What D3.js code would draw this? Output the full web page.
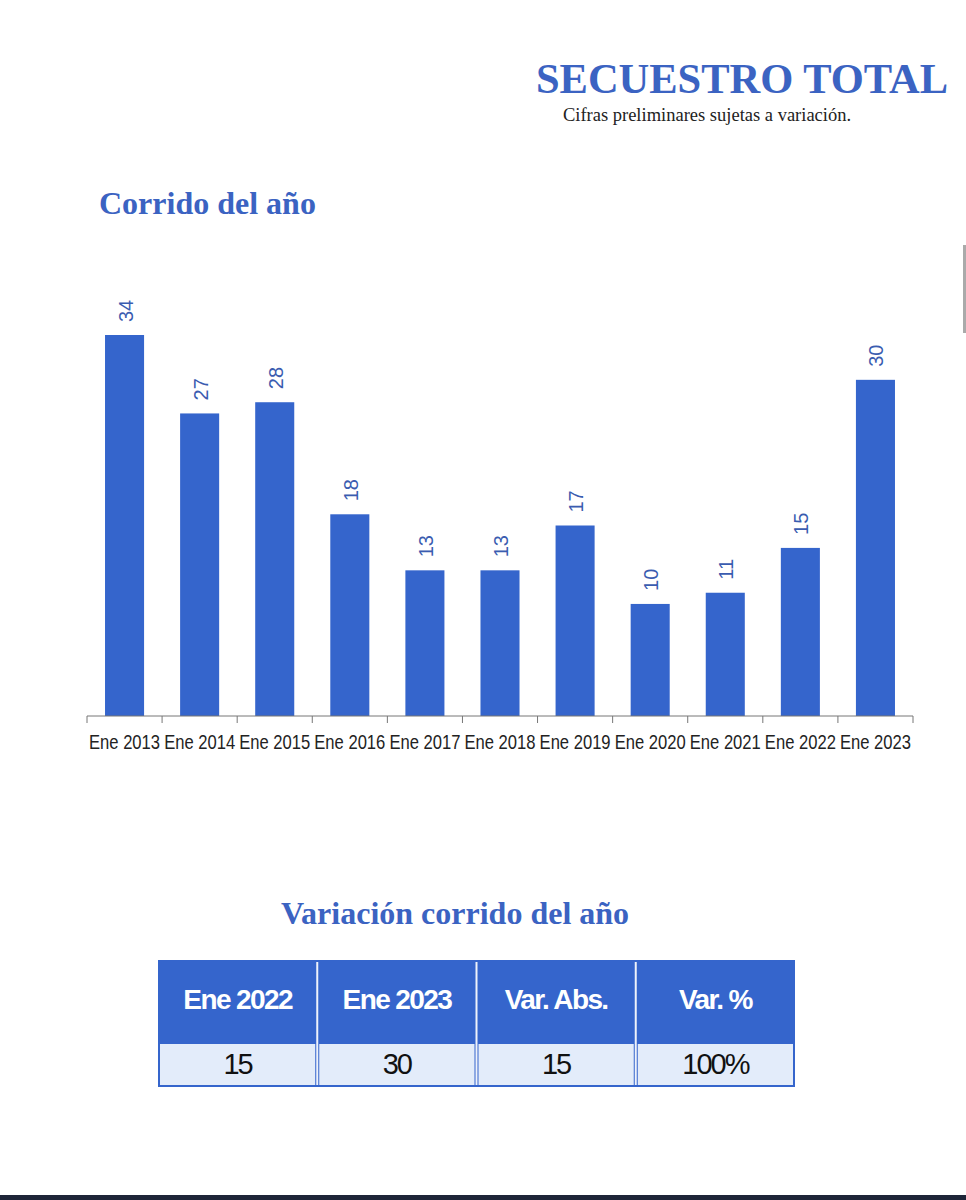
<!DOCTYPE html>
<html>
<head>
<meta charset="utf-8">
<script src="https://cdn.jsdelivr.net/npm/d3@7"></script>
<style>
  body { margin: 0; background: #fff; }
  svg { display: block; }
</style>
</head>
<body>
<svg id="chart" width="966" height="1200"></svg>
<script>
// Chart data
const categories = ['Ene 2013', 'Ene 2014', 'Ene 2015', 'Ene 2016', 'Ene 2017', 'Ene 2018',
                    'Ene 2019', 'Ene 2020', 'Ene 2021', 'Ene 2022', 'Ene 2023'];
const values = [34, 27, 28, 18, 13, 13, 17, 10, 11, 15, 30];

// Table data
const tableHeaders = ['Ene 2022', 'Ene 2023', 'Var. Abs.', 'Var. %'];
const tableValues = ['15', '30', '15', '100%'];

const blue = '#3565cc';
const titleBlue = '#3b63c2';
const serif = '"Liberation Serif", "DejaVu Serif", serif';
const sans = '"Liberation Sans", Arial, sans-serif';

const svg = d3.select('#chart');

// Titles
svg.append('text')
    .attr('x', 742).attr('y', 93)
    .attr('text-anchor', 'middle')
    .attr('font-family', serif).attr('font-weight', 'bold')
    .attr('font-size', '42.5px').attr('fill', titleBlue)
    .text('SECUESTRO TOTAL');

svg.append('text')
    .attr('x', 707).attr('y', 121)
    .attr('text-anchor', 'middle')
    .attr('font-family', serif).attr('font-size', '18.5px')
    .attr('fill', '#222')
    .text('Cifras preliminares sujetas a variación.');

svg.append('text')
    .attr('x', 99).attr('y', 214)
    .attr('font-family', serif).attr('font-weight', 'bold')
    .attr('font-size', '32px').attr('fill', titleBlue)
    .text('Corrido del año');

// Scales
const x = d3.scaleBand()
    .domain(categories)
    .range([87, 913])
    .paddingInner(0.48)
    .paddingOuter(0.24);

const y = d3.scaleLinear()
    .domain([0, d3.max(values)])
    .range([716, 335]);

// Bars
svg.selectAll('.bar')
    .data(categories)
    .enter()
    .append('rect')
    .attr('class', 'bar')
    .attr('x', d => x(d))
    .attr('y', (d, i) => y(values[i]))
    .attr('width', x.bandwidth())
    .attr('height', (d, i) => y(0) - y(values[i]))
    .attr('fill', blue);

// Value labels (rotated)
svg.selectAll('.bar-label')
    .data(categories)
    .enter()
    .append('text')
    .attr('class', 'bar-label')
    .attr('transform', (d, i) => `translate(${x(d) + x.bandwidth() / 2 + 8}, ${y(values[i]) - 13}) rotate(-90)`)
    .attr('font-family', sans)
    .attr('font-size', '20px')
    .attr('fill', '#3a5cb0')
    .text((d, i) => values[i]);

// X axis: ticks at band boundaries
const axis = svg.append('g').attr('class', 'x-axis');
const step = x.step();
const left = 87;
axis.append('line')
    .attr('x1', left).attr('x2', 913)
    .attr('y1', 716).attr('y2', 716)
    .attr('stroke', '#777').attr('stroke-width', 1);

d3.range(categories.length + 1).forEach(i => {
    axis.append('line')
        .attr('x1', left + i * step).attr('x2', left + i * step)
        .attr('y1', 716).attr('y2', 723)
        .attr('stroke', '#777').attr('stroke-width', 1);
});

axis.selectAll('.tick-label')
    .data(categories)
    .enter()
    .append('text')
    .attr('class', 'tick-label')
    .attr('transform', d => `translate(${x(d) + x.bandwidth() / 2}, 749) scale(0.83, 1)`)
    .attr('text-anchor', 'middle')
    .attr('font-family', sans)
    .attr('font-size', '20px')
    .attr('fill', '#222')
    .text(d => d);

// Table title
svg.append('text')
    .attr('x', 455).attr('y', 924)
    .attr('text-anchor', 'middle')
    .attr('font-family', serif).attr('font-weight', 'bold')
    .attr('font-size', '32px').attr('fill', titleBlue)
    .text('Variación corrido del año');

// Table
const tx = d3.scaleBand()
    .domain(tableHeaders)
    .range([158, 795]);

const table = svg.append('g');
table.append('rect')
    .attr('x', 158).attr('y', 960)
    .attr('width', 637).attr('height', 127)
    .attr('fill', blue);

table.selectAll('.cell-bg')
    .data(tableHeaders)
    .enter()
    .append('rect')
    .attr('x', d => tx(d) + 2)
    .attr('y', 1044)
    .attr('width', tx.bandwidth() - 4)
    .attr('height', 41)
    .attr('fill', '#e3ecfa');

table.selectAll('.sep')
    .data(tableHeaders.slice(1))
    .enter()
    .append('line')
    .attr('x1', d => tx(d)).attr('x2', d => tx(d))
    .attr('y1', 962).attr('y2', 1085)
    .attr('stroke', '#eef2fb').attr('stroke-width', 2);

table.selectAll('.head')
    .data(tableHeaders)
    .enter()
    .append('text')
    .attr('x', d => tx(d) + tx.bandwidth() / 2)
    .attr('y', 1009)
    .attr('text-anchor', 'middle')
    .attr('font-family', sans)
    .attr('font-weight', 'bold')
    .attr('font-size', '28px')
    .attr('letter-spacing', '-1.6px')
    .attr('fill', '#fff')
    .text(d => d);

table.selectAll('.val')
    .data(tableHeaders)
    .enter()
    .append('text')
    .attr('x', d => tx(d) + tx.bandwidth() / 2)
    .attr('y', 1074)
    .attr('text-anchor', 'middle')
    .attr('font-family', sans)
    .attr('font-size', '29px')
    .attr('letter-spacing', '-2px')
    .attr('fill', '#111')
    .text((d, i) => tableValues[i]);

// Scrollbar remnant at right edge
svg.append('rect')
    .attr('x', 963).attr('y', 245)
    .attr('width', 3).attr('height', 88)
    .attr('fill', '#aaa');

// Bottom bar
svg.append('rect')
    .attr('x', 0).attr('y', 1195)
    .attr('width', 966).attr('height', 5)
    .attr('fill', '#1e2538');
</script>
</body>
</html>
